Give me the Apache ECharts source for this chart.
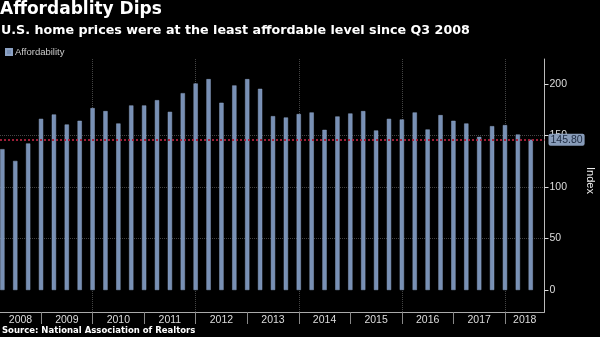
<!DOCTYPE html>
<html>
<head>
<meta charset="utf-8">
<script src="https://cdn.jsdelivr.net/npm/echarts@6/dist/echarts.min.js"></script>
<style>
html,body{margin:0;padding:0;background:#000;}
#chart{width:600px;height:337px;}
</style>
</head>
<body>
<div id="chart"></div>
<script>
// Quarterly data (quarter-end)
var quarters = [
  '2008Q1','2008Q2','2008Q3','2008Q4',
  '2009Q1','2009Q2','2009Q3','2009Q4',
  '2010Q1','2010Q2','2010Q3','2010Q4',
  '2011Q1','2011Q2','2011Q3','2011Q4',
  '2012Q1','2012Q2','2012Q3','2012Q4',
  '2013Q1','2013Q2','2013Q3','2013Q4',
  '2014Q1','2014Q2','2014Q3','2014Q4',
  '2015Q1','2015Q2','2015Q3','2015Q4',
  '2016Q1','2016Q2','2016Q3','2016Q4',
  '2017Q1','2017Q2','2017Q3','2017Q4',
  '2018Q1','2018Q2'
];
var affordability = [
  136.6, 125.2, 142.1, 166.0,
  170.2, 160.5, 164.1, 176.4,
  173.5, 161.5, 179.0, 179.0,
  184.1, 172.8, 190.9, 200.3,
  204.5, 181.6, 198.4, 204.5,
  195.1, 168.6, 167.3, 170.6,
  172.2, 155.3, 168.3, 171.2,
  173.5, 154.7, 166.0, 165.4,
  172.2, 155.7, 169.6, 164.1,
  161.5, 148.5, 158.9, 159.9,
  150.8, 145.8
];
var yearLabels = ['2008','2009','2010','2011','2012','2013','2014','2015','2016','2017','2018'];
var gridYears = [2010, 2012, 2014, 2016, 2018];
var yTicks = [0, 50, 100, 150, 200];
var lastValue = 145.80;

var xMin = 2008.204, xMax = 2018.767;

function qPos(q){ return parseInt(q.slice(0,4),10) + parseInt(q.slice(5),10) / 4; }
var barData = quarters.map(function(q, i){ return [qPos(q), affordability[i]]; });
var yearBoundaries = yearLabels.slice(1).map(function(y){ return parseInt(y,10); });
var yearLabelPos = yearLabels.map(function(y){
  var a = Math.max(parseInt(y,10), xMin), b = Math.min(parseInt(y,10)+1, xMax);
  return (a + b) / 2;
});

var LF = 'Liberation Sans';
var chart = echarts.init(document.getElementById('chart'));
chart.setOption({
  backgroundColor: '#000',
  animation: false,
  title: [
    {text: 'Affordablity Dips', left: 0, top: 1, padding: 0,
     textStyle: {fontFamily: 'DejaVu Sans', fontWeight: 'bold', fontSize: 17, color: '#fff'}},
    {text: 'U.S. home prices were at the least affordable level since Q3 2008', left: 1, top: 24, padding: 0,
     textStyle: {fontFamily: 'DejaVu Sans', fontWeight: 'bold', fontSize: 12.7, color: '#fff'}},
    {text: 'Source: National Association of Realtors', left: 2, top: 326, padding: 0,
     textStyle: {fontFamily: 'DejaVu Sans', fontWeight: 'bold', fontSize: 8.5, color: '#fff'}}
  ],
  legend: {
    data: ['Affordability'], left: 0, top: 42, icon: 'rect', itemWidth: 6, itemHeight: 6, itemGap: 4,
    textStyle: {fontFamily: LF, fontSize: 9.5, color: '#ccc', padding: [0,0,0,-2]}
  },
  grid: {left: 0, right: 55.5, top: 59, bottom: 25, containLabel: false, outerBoundsMode: 'none'},
  xAxis: {
    type: 'value', min: xMin, max: xMax,
    axisLine: {show: true, onZero: false, lineStyle: {color: '#aaa', width: 1}},
    axisTick: {show: true, inside: false, length: 12, customValues: yearBoundaries, lineStyle: {color: '#888'}},
    axisLabel: {show: true, customValues: yearLabelPos, margin: 3, color: '#ddd', fontFamily: LF, fontSize: 10.5,
      formatter: function(v){ return String(Math.floor(v)); }},
    splitLine: {show: false}
  },
  yAxis: {
    type: 'value', position: 'right', min: -21.3, max: 224,
    name: 'Index', nameLocation: 'middle', nameRotate: -90, nameGap: 40,
    nameTextStyle: {color: '#eee', fontFamily: LF, fontSize: 11, padding: [0, 10, 0, 0]},
    axisLine: {show: true, lineStyle: {color: '#bbb', width: 1}},
    axisTick: {show: true, length: 4, customValues: yTicks, lineStyle: {color: '#ddd'}},
    axisLabel: {show: true, customValues: yTicks, margin: 5, color: '#ddd', fontFamily: LF, fontSize: 10.5},
    splitLine: {show: true, showMinLine: false, showMaxLine: false, lineStyle: {color: '#444', type: 'dotted', width: 1}}
  },
  series: [
    {
      name: 'gridlines', type: 'line', data: [], silent: true, z: 1,
      markLine: {
        silent: true, symbol: 'none', z: 1, animation: false,
        label: {show: false},
        lineStyle: {color: '#444', type: 'dotted', width: 1},
        data: gridYears.map(function(y){ return {xAxis: y}; })
      }
    },
    {
      name: 'Affordability', type: 'bar', data: barData, barWidth: 4.3, z: 2,
      itemStyle: {color: '#7890b5', borderColor: '#8ca2c4', borderWidth: 0.5},
      markLine: {
        silent: true, symbol: 'none', animation: false,
        lineStyle: {color: '#a3213a', type: 'dotted', width: 2, opacity: 0.95},
        label: {show: true, position: 'end', distance: 4, formatter: lastValue.toFixed(2),
          backgroundColor: '#8fa4c3', color: '#17243a', fontFamily: LF, fontSize: 10.5,
          padding: [1, 2, 0, 2], borderRadius: 2},
        data: [{yAxis: lastValue}]
      }
    }
  ]
});
</script>
</body>
</html>
